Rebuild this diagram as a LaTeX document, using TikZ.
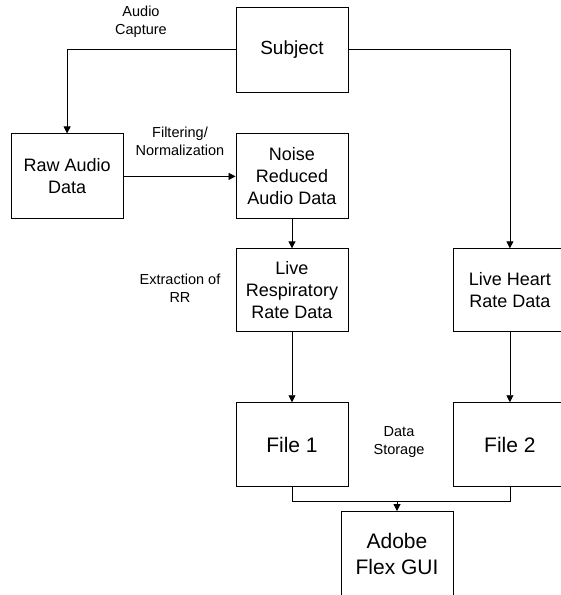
\documentclass[tikz,border=0pt]{standalone}
\usepackage{fontspec}
\setmainfont{Liberation Sans}
\usepackage{tikz}
\usetikzlibrary{arrows.meta,positioning}
\tikzset{
    %Define standard arrow tip
    >={Triangle[length=7pt,width=7pt]},
    %Define style for boxes
    blok/.style={
           rectangle,
           draw=black, line width=0.9pt,
           minimum width=112pt,
           minimum height=85pt,
           inner sep=0pt,
           align=center,
           font=\fontsize{18}{22}\selectfont},
    %Define style for labels
    tekst/.style={
           align=center,
           font=\fontsize{14.5}{18}\selectfont},
    % Define arrow style
    pil/.style={
           ->,
           line width=0.8pt}
}

\begin{document}
\begin{tikzpicture}[x=1pt,y=-1pt,node distance=41pt]
\clip (0,0) rectangle (561,595);
 %nodes
\node[blok, font=\fontsize{19}{23}\selectfont](subject) at (292,49.5){Subject};
\node[blok, below=of subject](noise){Noise\\Reduced\\Audio Data};
\node[blok, left=112pt of noise](raw){Raw Audio\\Data};
\node[blok, below=29pt of noise, minimum height=83pt](resp){Live\\Respiratory\\Rate Data};
\node[blok, right=105pt of resp, minimum height=83pt](heart){Live Heart\\Rate Data};
\node[blok, below=70pt of resp, minimum height=84pt, font=\fontsize{21}{25}\selectfont](file1){File 1};
\node[blok, below=70pt of heart, minimum height=84pt, font=\fontsize{21}{25}\selectfont](file2){File 2};
\node[blok, font=\fontsize{21}{26.5}\selectfont](adobe) at (397,554){Adobe\\Flex GUI};
 %labels
\node[tekst](capture) at (141,22){Audio\\Capture};
\node[tekst](filter) at (180,141){Filtering/\\Normalization};
\node[tekst](extract) at (180,288){Extraction of\\RR};
\node[tekst](storage) at (399,442){Data\\Storage};
 %arrows
\draw[pil] (subject.west) -| (raw.north);
\draw[pil] (subject.east) -| (heart.north);
\draw[pil] (raw.east) -- (noise.west);
\draw[pil] (noise) -- (resp);
\draw[pil] (resp) -- (file1);
\draw[pil] (heart) -- (file2);
\draw[line width=0.8pt] (file1.south) -- ++(0,14) coordinate(join) -| (file2.south);
\draw[pil] (join -| adobe.north) -- (adobe.north);
\end{tikzpicture}
\end{document}
